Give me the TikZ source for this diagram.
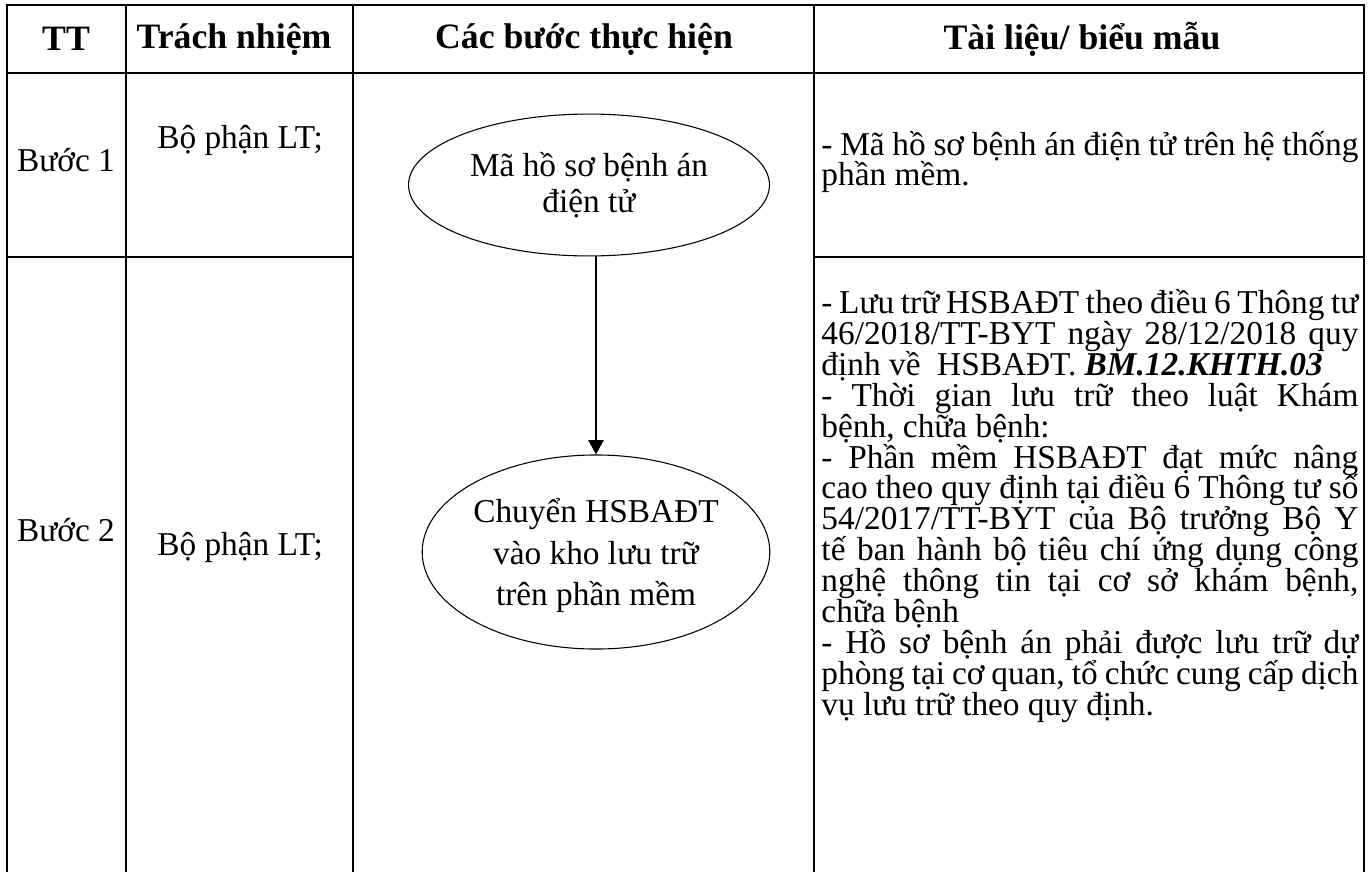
\documentclass[tikz,border=0pt]{standalone}
\usepackage{fontspec}
\setmainfont{Liberation Serif}
\usepackage{tikz}
\usetikzlibrary{shapes.geometric,arrows.meta}
\hyphenpenalty=10000
\exhyphenpenalty=10000
\newcommand\docfont{\fontsize{14pt}{13pt}\selectfont\lineskiplimit=-20pt\relax}

\begin{document}
\begin{tikzpicture}[
        x=0.42pt, y=-0.42pt,
        grid/.style={line width=0.85pt},
        head/.style={font=\fontsize{15pt}{17pt}\selectfont\bfseries},
        cell/.style={font=\fontsize{14pt}{16pt}\selectfont},
        stage/.style={ellipse, draw, line width=0.45pt, align=center, inner sep=0pt},
        doc/.style={anchor=west, text width=225.5pt, align=justify, inner sep=0pt, font=\docfont},
        arrow/.style={-{Triangle[width=6.3pt,length=6pt]}, line width=0.85pt}
    ]
        \useasboundingbox (0,0) rectangle (1370,872);

        % Table
        \draw[grid] (7,872) -- (7,5) -- (1364,5) -- (1364,872);
        \draw[grid] (126,5) -- (126,872);
        \draw[grid] (353,5) -- (353,872);
        \draw[grid] (814,5) -- (814,872);
        \draw[grid] (7,73) -- (1364,73);
        \draw[grid] (7,257) -- (353,257);
        \draw[grid] (814,257) -- (1364,257);

        % Header
        \node[head] (tt) at (66,39) {TT};
        \node[head] (resp) at (234,39) {Trách nhiệm};
        \node[head] (steps) at (584,39) {Các bước thực hiện};
        \node[head] (docs) at (1082,39) {Tài liệu/ biểu mẫu};

        % Buoc 1
        \node[cell] (step1) at (66,160) {Bước 1};
        \node[cell] (resp1) at (240,140) {Bộ phận LT;};
        \node[stage, minimum width=151.6pt, minimum height=59.6pt,
            font=\fontsize{14pt}{15pt}\selectfont] (e1) at (589,185)
            {Mã hồ sơ bệnh án\\điện tử};
        \node[doc] (doc1) at (821,162) {- Mã hồ sơ bệnh án điện tử trên hệ thống\linebreak
            phần mềm.};

        % Buoc 2
        \node[cell] (step2) at (66,530) {Bước 2};
        \node[cell] (resp2) at (240,547) {Bộ phận LT;};
        \node[stage, minimum width=146pt, minimum height=81.5pt,
            font=\fontsize{14pt}{17.5pt}\selectfont, text depth=-4pt] (e2) at (596,552)
            {Chuyển HSBAĐT\\vào kho lưu trữ\\trên phần mềm};
        \node[doc] (doc2) at (821,506) {- Lưu trữ HSBAĐT theo điều 6 Thông tư\linebreak
            46/2018/TT-BYT ngày 28/12/2018 quy\linebreak
            định về\ \ HSBAĐT. \textbf{\textit{BM.12.KHTH.03}}\\
            - Thời gian lưu trữ theo luật Khám\linebreak
            bệnh, chữa bệnh:\\
            - Phần mềm HSBAĐT đạt mức nâng\linebreak
            cao theo quy định tại điều 6 Thông tư số\linebreak
            54/2017/TT-BYT của Bộ trưởng Bộ Y\linebreak
            tế ban hành bộ tiêu chí ứng dụng công\linebreak
            nghệ thông tin tại cơ sở khám bệnh,\linebreak
            chữa bệnh\\
            - Hồ sơ bệnh án phải được lưu trữ dự\linebreak
            phòng tại cơ quan, tổ chức cung cấp dịch\linebreak
            vụ lưu trữ theo quy định.};

        % Arrow
        \draw[arrow] (e1.south -| e2.north) -- (e2.north);
    \end{tikzpicture}
\end{document}
